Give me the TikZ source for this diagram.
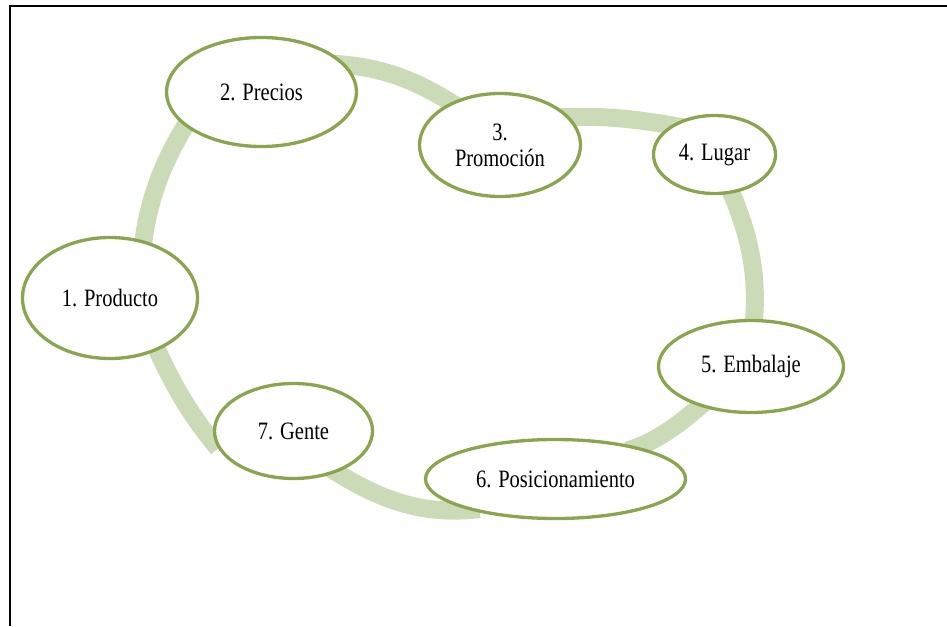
\documentclass[tikz,border=0pt]{standalone}
\usepackage{fontspec}
\setmainfont{Liberation Serif}[FakeStretch=0.82]
\usetikzlibrary{shapes.geometric,calc,backgrounds}
\definecolor{verdeborde}{RGB}{137,165,78}
\definecolor{verdearco}{RGB}{204,219,183}
\tikzset{
  etapa/.style={ellipse, draw=verdeborde, line width=3.3pt, fill=white, inner sep=0pt,
    align=center, font=\fontsize{25}{26}\selectfont},
  anillo/.style={draw=verdearco, line width=18pt, shorten <=-12pt, shorten >=-12pt},
}

\begin{document}
\begin{tikzpicture}[x=1pt,y=-1pt]
  \useasboundingbox (0,0) rectangle (947,626);
  \draw[line width=2pt] (10,626) -- (10,6) -- (947,6);
  %%%% etapas
  \node[etapa, minimum width=175pt, minimum height=121pt] (prod) at (110,298) {1. Producto};
  \node[etapa, minimum width=190pt, minimum height=109pt] (prec) at (261.5,92) {2. Precios};
  \node[etapa, minimum width=161pt, minimum height=103pt] (prom) at (500,145) {3.\\Promoción};
  \node[etapa, minimum width=122pt, minimum height=78pt] (lug) at (714.5,154.5) {4. Lugar};
  \node[etapa, minimum width=185pt, minimum height=92pt] (emb) at (751,366.5) {5. Embalaje};
  \node[etapa, minimum width=260pt, minimum height=79pt] (pos) at (555.5,479) {6. Posicionamiento};
  \node[etapa, minimum width=158pt, minimum height=95pt] (gen) at (293.5,431) {7. Gente};
  %%%% arcos
  \begin{scope}[on background layer]
    \draw[anillo] (prod.60) .. controls ($(prod.60)!2/3!(150,181)$) and ($(prec.204)!2/3!(150,181)$) .. (prec.204);
    \draw[anillo] (prec.18) .. controls ($(prec.18)!2/3!(399,68)$) and ($(prom.139)!2/3!(399,68)$) .. (prom.139);
    \draw[anillo] (prom.22) .. controls ($(prom.22)!2/3!(614,114.5)$) and ($(lug.146)!2/3!(614,114.5)$) .. (lug.146);
    \draw[anillo] (lug.-66) .. controls ($(lug.-66)!2/3!(761,258)$) and ($(emb.86)!2/3!(761,258)$) .. (emb.86);
    \draw[anillo] (emb.218) .. controls ($(emb.218)!2/3!(662.5,439.5)$) and ($(pos.21)!2/3!(662.5,439.5)$) .. (pos.21);
    \draw[anillo, shorten <=-10pt] (pos.200) .. controls ($(pos.200)!2/3!(405,518)$) and ($(gen.316)!2/3!(405,518)$) .. (gen.316);
    \draw[anillo, shorten >=0pt] (prod.312) .. controls ($(prod.312)!2/3!(180,403)$) and ($(gen.193)!2/3!(180,403)$) .. (gen.193);
  \end{scope}
\end{tikzpicture}
\end{document}
